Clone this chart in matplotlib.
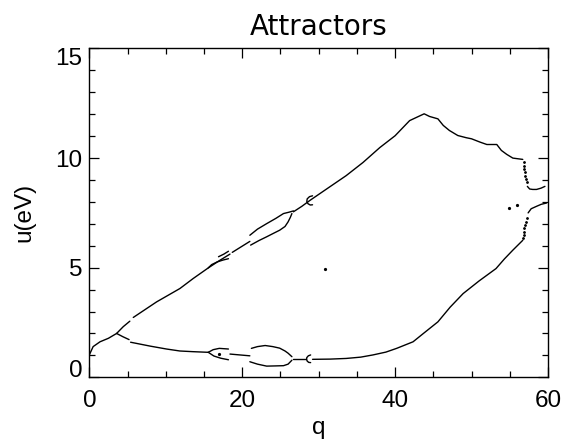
import matplotlib
matplotlib.use('Agg')
import matplotlib.pyplot as plt
from matplotlib.ticker import MultipleLocator

# ---------------- data ----------------
title = "Attractors"
x_label = "q"
y_label = "u(eV)"
x_ticks = [0, 20, 40, 60]
y_ticks = [0, 5, 10, 15]

# single attractor at small q
start_x = [0.0, 0.5, 1.4, 2.5, 3.57]
start_y = [1.02, 1.40, 1.62, 1.78, 2.00]

# upper branch
up1_x = [3.57, 4.44, 5.30]
up1_y = [2.00, 2.31, 2.56]
up2_x = [5.75, 8.8, 11.85, 13.6, 15.56, 17.0, 18.4]
up2_y = [2.73, 3.44, 4.05, 4.51, 4.99, 5.32, 5.62]
up3_x = [18.7, 21.0]
up3_y = [5.70, 6.20]
up_small_hi_x = [16.9, 17.6, 18.2]
up_small_hi_y = [5.50, 5.62, 5.75]
up_small_lo_x = [15.56, 16.0, 16.7, 17.5, 18.2]
up_small_lo_y = [4.99, 5.14, 5.26, 5.35, 5.41]
up_arc_hi_x = [21.0, 22.0, 23.2, 24.4, 25.4, 26.1, 26.7]
up_arc_hi_y = [6.48, 6.76, 7.01, 7.25, 7.47, 7.53, 7.59]
up_arc_lo_x = [21.1, 22.2, 23.2, 24.1, 24.9, 25.6, 26.0, 26.3, 26.5]
up_arc_lo_y = [6.03, 6.24, 6.41, 6.57, 6.71, 6.88, 7.09, 7.30, 7.47]
up4_x = [26.7, 27.8, 28.9, 31.5, 33.6, 35.8, 38.0, 40.0, 41.9, 43.8,
         44.5, 45.6, 46.3, 47.1, 48.2, 49.3, 50.0, 51.1, 52.0, 53.3,
         53.9, 54.6, 55.4, 56.7]
up4_y = [7.55, 7.80, 8.08, 8.70, 9.20, 9.80, 10.48, 11.02, 11.71, 12.02,
         11.90, 11.79, 11.49, 11.26, 11.03, 10.93, 10.88, 10.73, 10.62, 10.62,
         10.35, 10.17, 10.00, 9.94]
up_c_x = [29.2, 28.8, 28.5, 28.45, 28.6, 28.9, 29.2]
up_c_y = [8.28, 8.24, 8.14, 8.02, 7.92, 7.86, 7.87]
up_dot_x = [56.8, 56.85, 56.9, 56.95, 57.0, 57.1, 57.2]
up_dot_y = [9.80, 9.65, 9.50, 9.35, 9.20, 9.05, 8.90]
up5_x = [57.3, 57.6, 58.0, 58.5, 59.1, 59.6]
up5_y = [8.71, 8.59, 8.57, 8.57, 8.63, 8.71]

# lower branch
lo1_x = [3.57, 4.4, 5.2]
lo1_y = [2.00, 1.85, 1.72]
lo2_x = [5.4, 8.0, 10.1, 11.85, 13.5, 15.56]
lo2_y = [1.60, 1.42, 1.29, 1.20, 1.17, 1.14]
lo_small_hi_x = [15.56, 16.2, 17.0, 18.2]
lo_small_hi_y = [1.14, 1.26, 1.32, 1.29]
lo_small_lo_x = [15.56, 16.3, 17.2, 18.2]
lo_small_lo_y = [1.14, 0.97, 0.87, 0.80]
lo_mid_x = [18.4, 21.0]
lo_mid_y = [1.06, 0.98]
lo_arc_hi_x = [21.2, 22.0, 23.0, 24.0, 24.9, 25.6, 26.0, 26.5]
lo_arc_hi_y = [1.32, 1.40, 1.45, 1.40, 1.33, 1.20, 1.10, 0.94]
lo_arc_lo_x = [21.0, 22.0, 23.2, 24.4, 25.4, 26.0, 26.5]
lo_arc_lo_y = [0.71, 0.60, 0.51, 0.52, 0.53, 0.60, 0.78]
lo3_x = [26.7, 28.4]
lo3_y = [0.84, 0.84]
lo_c_x = [28.95, 28.65, 28.45, 28.42, 28.5, 28.7, 28.95]
lo_c_y = [1.02, 0.98, 0.90, 0.82, 0.74, 0.68, 0.67]
lo4_x = [29.2, 31.5, 33.6, 35.5, 37.1, 38.8, 40.2, 42.35, 43.7, 45.6,
         47.2, 48.9, 51.0, 53.2, 54.3, 55.4, 56.7]
lo4_y = [0.82, 0.83, 0.86, 0.92, 1.02, 1.15, 1.32, 1.62, 2.00, 2.53,
         3.20, 3.82, 4.40, 4.96, 5.40, 5.80, 6.25]
lo_dot_x = [56.75, 56.8, 56.85, 56.9, 57.0, 57.1, 57.2]
lo_dot_y = [6.35, 6.50, 6.65, 6.80, 6.95, 7.10, 7.25]
lo5_x = [57.4, 57.8, 58.5, 59.1, 59.8]
lo5_y = [7.50, 7.69, 7.80, 7.89, 7.95]

# isolated points
iso_x = [17.0, 30.8, 54.9, 55.9]
iso_y = [1.06, 4.96, 7.72, 7.85]

# ---------------- figure ----------------
fig = plt.figure(figsize=(5.66, 4.40), dpi=100)
ax = fig.add_axes([0.1578, 0.1425, 0.8104, 0.7473])

line_kw = dict(color='black', lw=1.0, solid_capstyle='round')
segments = [
    (start_x, start_y), (up1_x, up1_y), (up2_x, up2_y), (up3_x, up3_y),
    (up_small_hi_x, up_small_hi_y), (up_small_lo_x, up_small_lo_y),
    (up_arc_hi_x, up_arc_hi_y), (up_arc_lo_x, up_arc_lo_y),
    (up4_x, up4_y), (up_c_x, up_c_y), (up5_x, up5_y),
    (lo1_x, lo1_y), (lo2_x, lo2_y),
    (lo_small_hi_x, lo_small_hi_y), (lo_small_lo_x, lo_small_lo_y),
    (lo_mid_x, lo_mid_y), (lo_arc_hi_x, lo_arc_hi_y), (lo_arc_lo_x, lo_arc_lo_y),
    (lo3_x, lo3_y), (lo_c_x, lo_c_y), (lo4_x, lo4_y), (lo5_x, lo5_y),
]
for sx, sy in segments:
    ax.plot(sx, sy, **line_kw)

ax.plot(up_dot_x, up_dot_y, ls='none', marker='o', ms=1.0, color='black')
ax.plot(lo_dot_x, lo_dot_y, ls='none', marker='o', ms=1.0, color='black')
ax.plot(iso_x, iso_y, ls='none', marker='o', ms=1.3, color='black')

ax.set_xlim(0, 60)
ax.set_ylim(0, 15)
ax.set_xticks(x_ticks)
ax.set_yticks(y_ticks)
ax.xaxis.set_minor_locator(MultipleLocator(5))
ax.yaxis.set_minor_locator(MultipleLocator(1))

tick_font = dict(family='Liberation Sans', size=17.5)
ax.set_xticklabels([str(t) for t in x_ticks], fontdict=tick_font)
ax.set_yticklabels([str(t) for t in y_ticks], fontdict=tick_font)
ylabs = ax.get_yticklabels()
ylabs[0].set_va('baseline')
ylabs[-1].set_va('top')

ax.tick_params(which='both', direction='in', top=True, right=True,
               color='black', width=0.9)
ax.tick_params(which='major', length=7)
ax.tick_params(which='minor', length=4)
ax.tick_params(axis='x', which='major', pad=9.5)
ax.tick_params(axis='y', which='major', pad=5)

for sp in ax.spines.values():
    sp.set_linewidth(1.0)
    sp.set_color('black')

ax.set_title(title, family='DejaVu Sans', fontsize=20, pad=9.5)
ax.set_xlabel(x_label, family='Liberation Sans', fontsize=17.5)
ax.xaxis.label.set_va('bottom')
ax.xaxis.set_label_coords(0.5, -0.1865)
ax.set_ylabel(y_label, family='Liberation Sans', fontsize=17.5, labelpad=14)

fig.savefig('out.png', dpi=100)
